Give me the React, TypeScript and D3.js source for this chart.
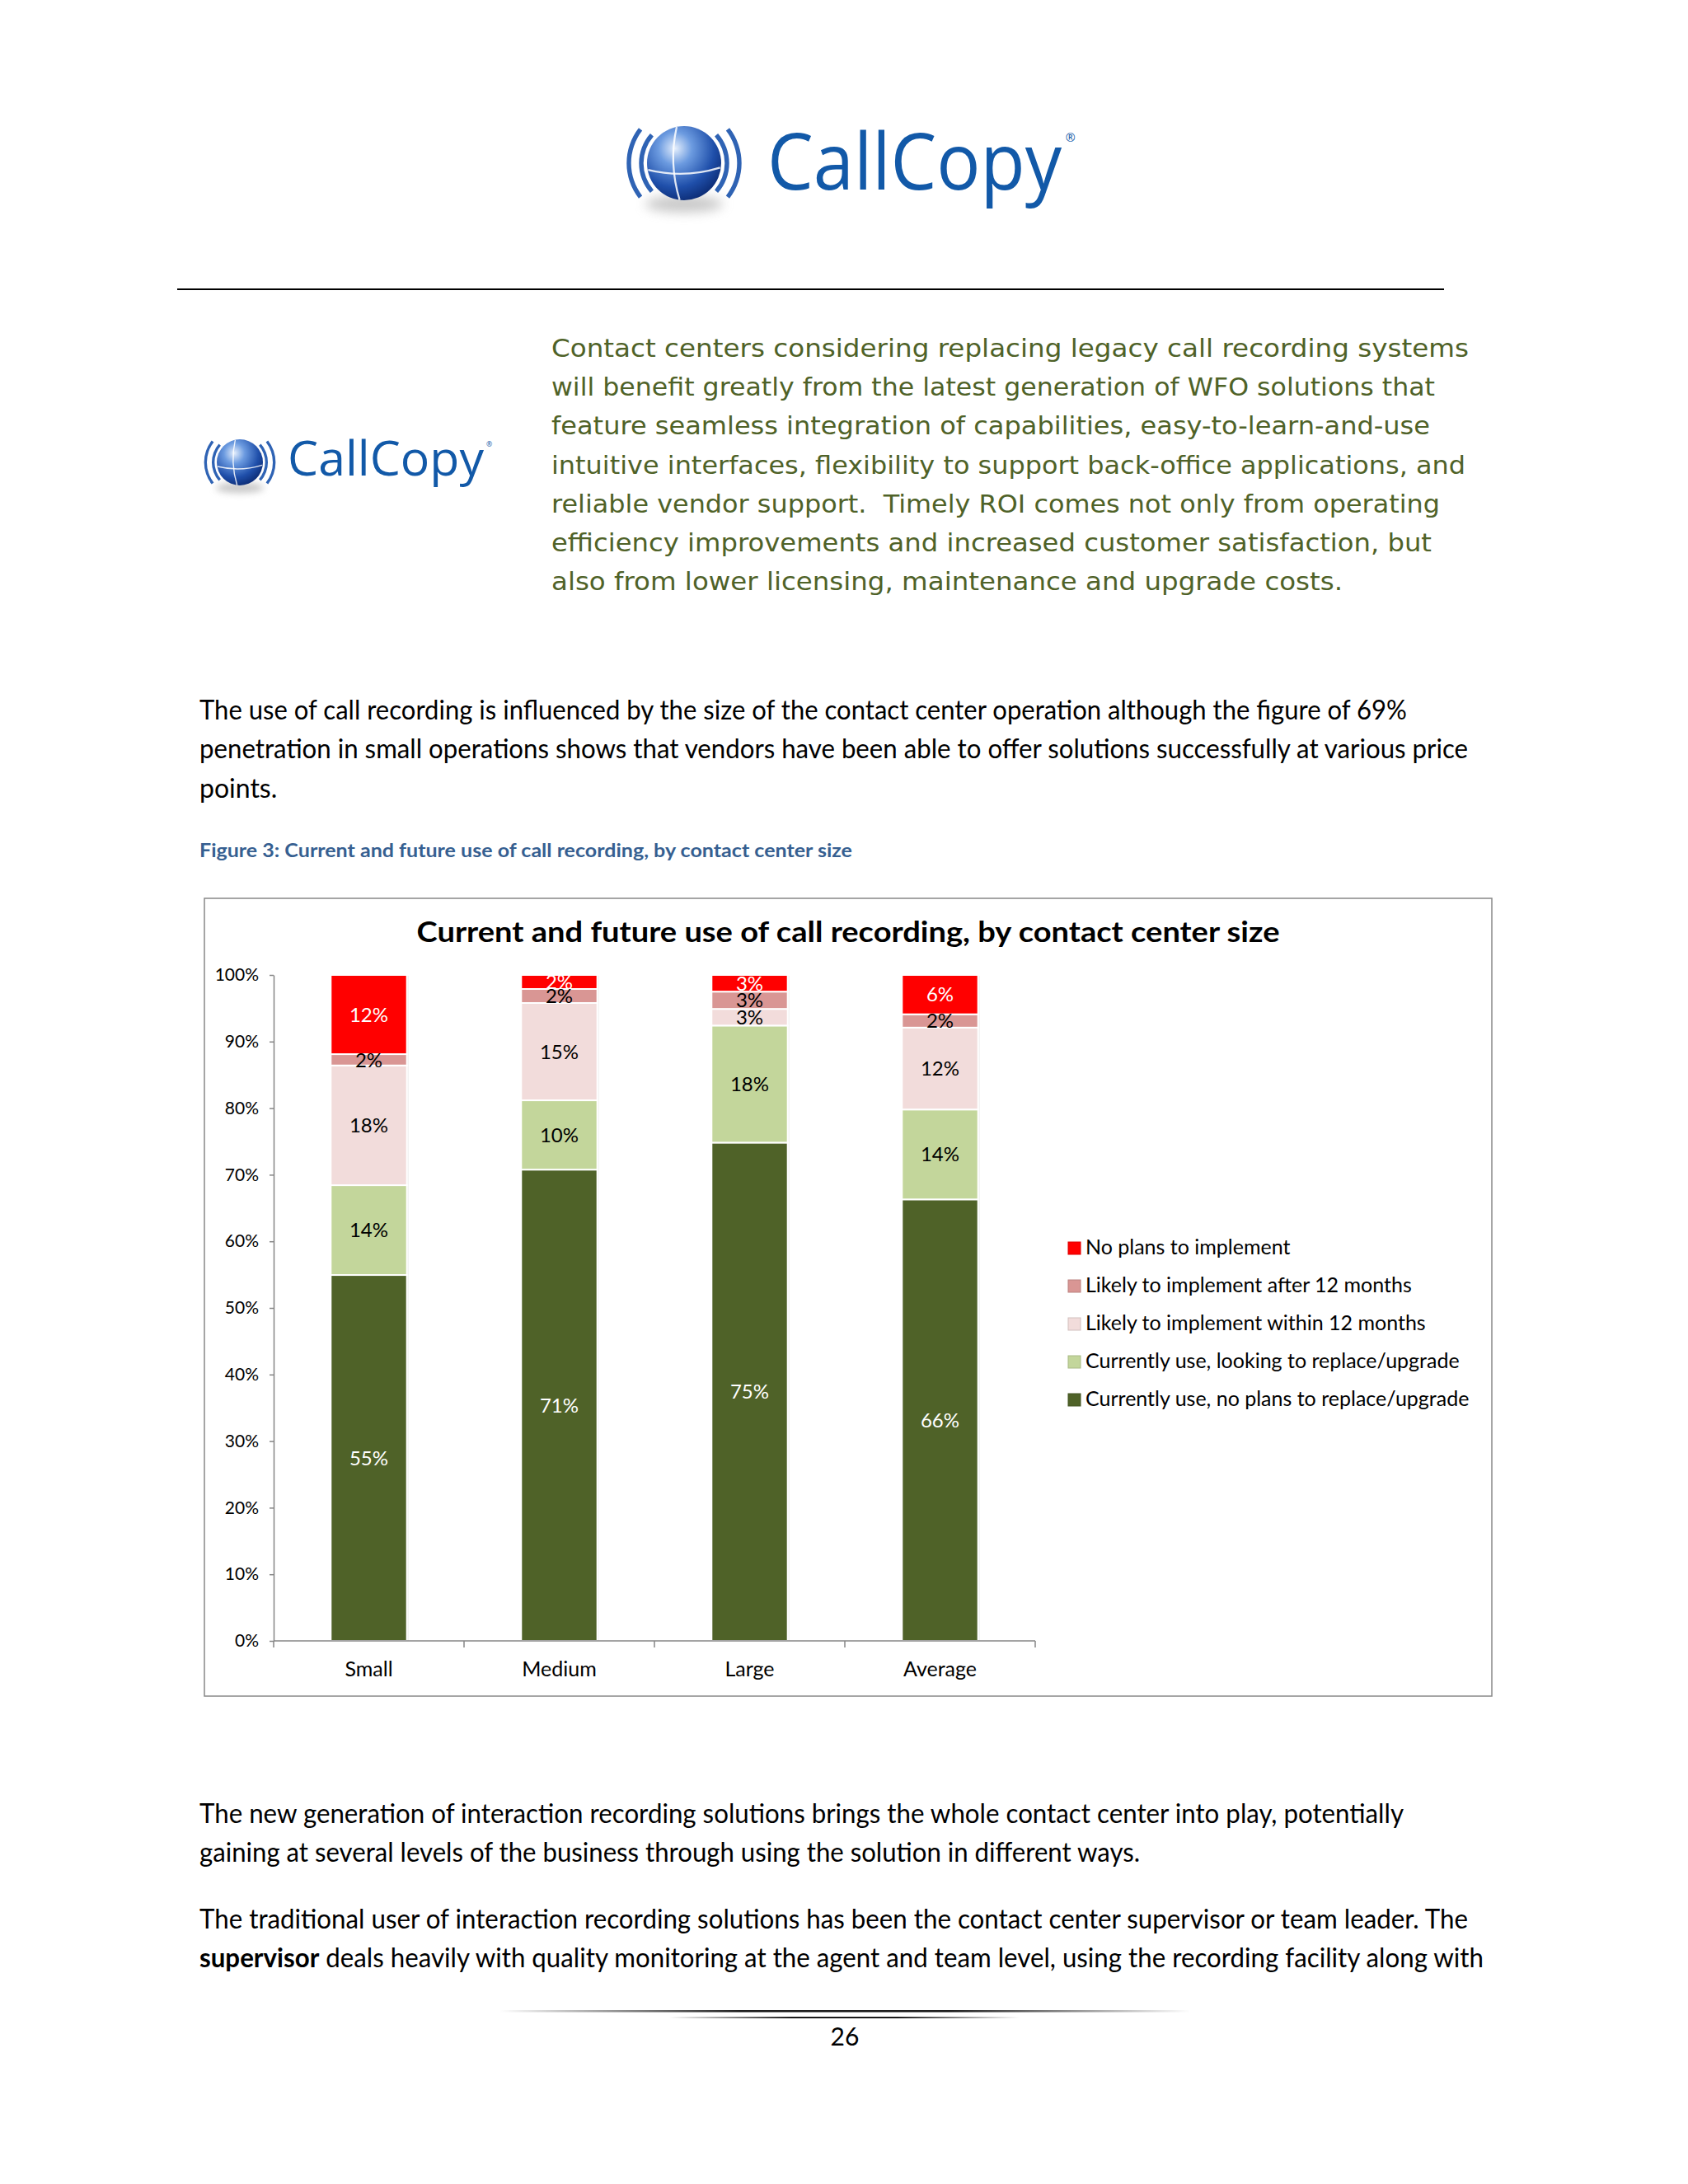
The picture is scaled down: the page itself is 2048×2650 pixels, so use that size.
import React, { useEffect, useRef } from 'react'
import * as d3 from 'd3'

// chart data (percent of respondents)
const categories = ['Small', 'Medium', 'Large', 'Average']
const seriesNames = [
  'Currently use, no plans to replace/upgrade',
  'Currently use, looking to replace/upgrade',
  'Likely to implement within 12 months',
  'Likely to implement after 12 months',
  'No plans to implement',
]
const noPlansToReplace = [55.0, 70.7, 74.9, 66.3]
const lookingToReplace = [13.5, 10.4, 17.6, 13.5]
const within12Months = [18.0, 14.6, 2.5, 12.3]
const after12Months = [1.7, 2.1, 2.6, 2.0]
const noPlansToImplement = [11.9, 2.1, 2.5, 5.9]
const seriesValues = [noPlansToReplace, lookingToReplace, within12Months, after12Months, noPlansToImplement]
const seriesColors = ['#4F6228', '#C3D69B', '#F2DCDB', '#D99694', '#FF0000']
const labelColors = ['#FFFFFF', '#000000', '#000000', '#000000', '#FFFFFF']
const yTicks = [0, 0.1, 0.2, 0.3, 0.4, 0.5, 0.6, 0.7, 0.8, 0.9, 1]
const chartTitle = 'Current and future use of call recording, by contact center size'

// page text
const quoteLines = [
  'Contact centers considering replacing legacy call recording systems',
  'will benefit greatly from the latest generation of WFO solutions that',
  'feature seamless integration of capabilities, easy-to-learn-and-use',
  'intuitive interfaces, flexibility to support back-office applications, and',
  'reliable vendor support.  Timely ROI comes not only from operating',
  'efficiency improvements and increased customer satisfaction, but',
  'also from lower licensing, maintenance and upgrade costs.',
]
const quoteWidths = [1113, 1072, 1066, 1109, 1078, 1068, 960]
const para1 = [
  'The use of call recording is influenced by the size of the contact center operation although the figure of 69%',
  'penetration in small operations shows that vendors have been able to offer solutions successfully at various price',
  'points.',
]
const para1Widths = [1465, 1539, 0]
const caption = 'Figure 3: Current and future use of call recording, by contact center size'
const para2 = [
  'The new generation of interaction recording solutions brings the whole contact center into play, potentially',
  'gaining at several levels of the business through using the solution in different ways.',
]
const para2Widths = [1461, 1141]
const para3Line1 = 'The traditional user of interaction recording solutions has been the contact center supervisor or team leader. The'
const para3Bold = 'supervisor'
const para3Rest = ' deals heavily with quality monitoring at the agent and team level, using the recording facility along with'

const FONT = "Lato, 'Noto Sans', sans-serif"
const LOGO_BLUE = '#1259A8'

const Globe: React.FC<{ cx: number; cy: number; r: number; id: string }> = ({ cx, cy, r, id }) => {
  const arc = d3.arc()
  const arcs = [0.52 / 0.45, 0.67 / 0.45].flatMap((k, i) =>
    [Math.PI / 2, (3 * Math.PI) / 2].map((mid) =>
      arc({
        innerRadius: r * k - r * 0.06,
        outerRadius: r * k + r * 0.06,
        startAngle: mid - (i === 0 ? 0.72 : 0.66),
        endAngle: mid + (i === 0 ? 0.72 : 0.66),
      } as any)
    )
  )
  return (
    <g>
      <defs>
        <radialGradient id={`${id}-grad`} cx="38%" cy="30%" r="75%">
          <stop offset="0%" stopColor="#E4EEFC" />
          <stop offset="30%" stopColor="#6C9BE0" />
          <stop offset="70%" stopColor="#1F4FAA" />
          <stop offset="100%" stopColor="#0B2A72" />
        </radialGradient>
        <filter id={`${id}-blur`} x="-50%" y="-100%" width="200%" height="300%">
          <feGaussianBlur stdDeviation={r * 0.15} />
        </filter>
      </defs>
      <ellipse cx={cx} cy={cy + r * 1.1} rx={r * 1.05} ry={r * 0.22} fill="#9a9a9a" opacity={0.55} filter={`url(#${id}-blur)`} />
      {arcs.map((d, i) => (
        <path key={i} d={d as string} transform={`translate(${cx},${cy})`} fill="#2F63B4" />
      ))}
      <circle cx={cx} cy={cy} r={r} fill={`url(#${id}-grad)`} />
      <path
        d={`M${cx - r * 0.97},${cy + r * 0.18} Q${cx},${cy + r * 0.42} ${cx + r * 0.97},${cy + r * 0.12}`}
        fill="none"
        stroke="#fff"
        strokeWidth={r * 0.05}
        opacity={0.85}
      />
      <path
        d={`M${cx - r * 0.2},${cy - r * 0.98} Q${cx - r * 0.42},${cy} ${cx - r * 0.12},${cy + r * 0.99}`}
        fill="none"
        stroke="#fff"
        strokeWidth={r * 0.05}
        opacity={0.85}
      />
    </g>
  )
}

const Logo: React.FC<{ cx: number; cy: number; r: number; id: string; textX: number; baseline: number; size: number; width: number }> = ({
  cx,
  cy,
  r,
  id,
  textX,
  baseline,
  size,
  width,
}) => (
  <g>
    <Globe cx={cx} cy={cy} r={r} id={id} />
    <text
      x={textX}
      y={baseline}
      fontFamily="'Open Sans', sans-serif"
      fontSize={size}
      fill={LOGO_BLUE}
      textLength={width}
      lengthAdjust="spacingAndGlyphs"
    >
      CallCopy
    </text>
    <text x={textX + width + size * 0.05} y={baseline - size * 0.6} fontFamily="'Open Sans', sans-serif" fontSize={size * 0.15} fill={LOGO_BLUE}>
      ®
    </text>
  </g>
)

const StackedChart: React.FC = () => {
  const ref = useRef<SVGGElement>(null)

  useEffect(() => {
    const g = d3.select(ref.current)
    g.selectAll('*').remove()

    const left = 332
    const right = 1256
    const top = 1183
    const bottom = 1991

    const x = d3.scaleBand().domain(categories).range([left, right]).paddingInner(0.6).paddingOuter(0.3)
    const y = d3.scaleLinear().domain([0, 1]).range([bottom, top])

    const rows = categories.map((c, i) => {
      const r: any = { category: c }
      seriesNames.forEach((s, k) => (r[s] = seriesValues[k][i]))
      return r
    })
    const stacked = d3.stack<any>().keys(seriesNames).offset(d3.stackOffsetExpand)(rows)

    g.append('clipPath').attr('id', 'plot-clip').append('rect').attr('x', left).attr('y', top).attr('width', right - left).attr('height', bottom - top)

    // faint shadow on the right edge of each column
    g.selectAll('rect.shadow')
      .data(categories)
      .enter()
      .append('rect')
      .attr('class', 'shadow')
      .attr('x', (d) => (x(d) as number) + 2)
      .attr('width', x.bandwidth())
      .attr('y', top + 1)
      .attr('height', bottom - top - 1)
      .attr('fill', '#000')
      .attr('opacity', 0.07)

    // bars
    const layers = g
      .selectAll('g.layer')
      .data(stacked)
      .enter()
      .append('g')
      .attr('class', 'layer')
      .attr('fill', (_, i) => seriesColors[i])

    layers
      .selectAll('rect')
      .data((d) => d)
      .enter()
      .append('rect')
      .attr('x', (d: any) => x(d.data.category) as number)
      .attr('width', x.bandwidth())
      .attr('y', (d) => y(d[1]))
      .attr('height', (d) => y(d[0]) - y(d[1]))
      .attr('stroke', '#ffffff')
      .attr('stroke-width', 2)

    // data labels
    const labels = g.append('g').attr('clip-path', 'url(#plot-clip)')
    stacked.forEach((layer, k) => {
      labels
        .selectAll(`text.l${k}`)
        .data(layer)
        .enter()
        .append('text')
        .attr('class', `l${k}`)
        .attr('x', (d: any) => (x(d.data.category) as number) + x.bandwidth() / 2)
        .attr('y', (d) => (y(d[0]) + y(d[1])) / 2)
        .attr('dy', '0.36em')
        .attr('text-anchor', 'middle')
        .attr('font-family', FONT)
        .attr('font-size', 24)
        .attr('fill', labelColors[k])
        .text((_, i) => `${Math.round(seriesValues[k][i])}%`)
    })

    // y axis
    const yAxis = g
      .append('g')
      .attr('transform', `translate(${left},0)`)
      .call(d3.axisLeft(y).tickValues(yTicks).tickFormat(d3.format('.0%')).tickSize(5).tickSizeOuter(0).tickPadding(13))
    yAxis.select('.domain').attr('stroke', '#868686').attr('stroke-width', 1.5)
    yAxis.selectAll('.tick line').attr('stroke', '#868686').attr('stroke-width', 1.5)
    yAxis.selectAll('.tick text').attr('font-family', FONT).attr('font-size', 21).attr('fill', '#000')

    // x axis with ticks between categories
    const xAxis = g.append('g')
    xAxis.append('line').attr('x1', left).attr('x2', right).attr('y1', bottom).attr('y2', bottom).attr('stroke', '#868686').attr('stroke-width', 1.5)
    const bounds = categories.map((c) => (x(c) as number) - x.step() * x.paddingOuter()).concat([right])
    xAxis
      .selectAll('line.tick')
      .data(bounds)
      .enter()
      .append('line')
      .attr('class', 'tick')
      .attr('x1', (d) => d)
      .attr('x2', (d) => d)
      .attr('y1', bottom)
      .attr('y2', bottom + 8)
      .attr('stroke', '#868686')
      .attr('stroke-width', 1.5)
    xAxis
      .selectAll('text')
      .data(categories)
      .enter()
      .append('text')
      .attr('x', (d) => (x(d) as number) + x.bandwidth() / 2)
      .attr('y', 2034)
      .attr('text-anchor', 'middle')
      .attr('font-family', FONT)
      .attr('font-size', 25)
      .attr('fill', '#000')
      .text((d) => d)

    // legend (top series first)
    const legend = g.append('g').attr('transform', 'translate(1296,1522)')
    const order = d3.range(seriesNames.length).reverse()
    const items = legend
      .selectAll('g')
      .data(order)
      .enter()
      .append('g')
      .attr('transform', (_, i) => `translate(0,${i * 46})`)
    items
      .append('rect')
      .attr('x', 0)
      .attr('y', -15)
      .attr('width', 15)
      .attr('height', 15)
      .attr('fill', (k) => seriesColors[k])
      .attr('stroke', (k) => d3.color(seriesColors[k])!.darker(0.4).toString())
      .attr('stroke-width', 1)
    items
      .append('text')
      .attr('x', 21)
      .attr('y', 0)
      .attr('font-family', FONT)
      .attr('font-size', 25)
      .attr('fill', '#000')
      .text((k) => seriesNames[k])

    // title
    g.append('text')
      .attr('x', 1029)
      .attr('y', 1143)
      .attr('text-anchor', 'middle')
      .attr('font-family', FONT)
      .attr('font-weight', 700)
      .attr('font-size', 35)
      .attr('textLength', 1047)
      .attr('lengthAdjust', 'spacingAndGlyphs')
      .attr('fill', '#000')
      .text(chartTitle)
  }, [])

  return <g ref={ref} />
}

const Line: React.FC<{ x: number; y: number; width?: number; size: number; fill: string; family?: string; weight?: number; children: React.ReactNode }> = ({
  x,
  y,
  width,
  size,
  fill,
  family = FONT,
  weight = 400,
  children,
}) => (
  <text
    x={x}
    y={y}
    fontFamily={family}
    fontSize={size}
    fontWeight={weight}
    fill={fill}
    textLength={width ? width : undefined}
    lengthAdjust={width ? 'spacingAndGlyphs' : undefined}
    style={{ whiteSpace: 'pre' }}
  >
    {children}
  </text>
)

export default function App() {
  return (
    <div style={{ position: 'absolute', left: 0, top: 0 }}>
      <svg width={2048} height={2650} style={{ display: 'block', background: '#fff' }}>
        <defs>
          <linearGradient id="fade" x1="0" x2="1" y1="0" y2="0">
            <stop offset="0%" stopColor="#000" stopOpacity={0} />
            <stop offset="35%" stopColor="#000" stopOpacity={0.9} />
            <stop offset="65%" stopColor="#000" stopOpacity={0.9} />
            <stop offset="100%" stopColor="#000" stopOpacity={0} />
          </linearGradient>
        </defs>

        <Logo cx={830} cy={198} r={45} id="logo-top" textX={931} baseline={230} size={96} width={357} />
        <line x1={215} x2={1752} y1={351} y2={351} stroke="#000" strokeWidth={2} />

        <Logo cx={291} cy={561} r={28} id="logo-side" textX={349} baseline={577} size={58} width={238} />
        {quoteLines.map((t, i) => (
          <Line key={i} x={669} y={433 + i * 47.2} width={quoteWidths[i]} size={31} fill="#4F6228" family="'DejaVu Sans', sans-serif">
            {t}
          </Line>
        ))}

        {para1.map((t, i) => (
          <Line key={i} x={242} y={873 + i * 47.3} width={para1Widths[i] || undefined} size={32} fill="#000">
            {t}
          </Line>
        ))}
        <Line x={242} y={1040} width={792} size={22} weight={700} fill="#365F91">
          {caption}
        </Line>

        <rect x={248} y={1090} width={1562} height={968} fill="#fff" stroke="#888" strokeWidth={1.5} />
        <StackedChart />

        {para2.map((t, i) => (
          <Line key={i} x={242} y={2212 + i * 47} width={para2Widths[i]} size={32} fill="#000">
            {t}
          </Line>
        ))}
        <Line x={242} y={2340} width={1539} size={32} fill="#000">
          {para3Line1}
        </Line>
        <text x={242} y={2387} fontFamily={FONT} fontSize={32} fill="#000" textLength={1558} lengthAdjust="spacingAndGlyphs" style={{ whiteSpace: 'pre' }}>
          <tspan fontWeight={700}>{para3Bold}</tspan>
          <tspan>{para3Rest}</tspan>
        </text>

        <rect x={606} y={2439} width={838} height={2.5} fill="url(#fade)" />
        <rect x={812} y={2447} width={425} height={2} fill="url(#fade)" />
        <text x={1025} y={2482} textAnchor="middle" fontFamily={FONT} fontSize={30} fill="#000">
          26
        </text>
      </svg>
    </div>
  )
}
